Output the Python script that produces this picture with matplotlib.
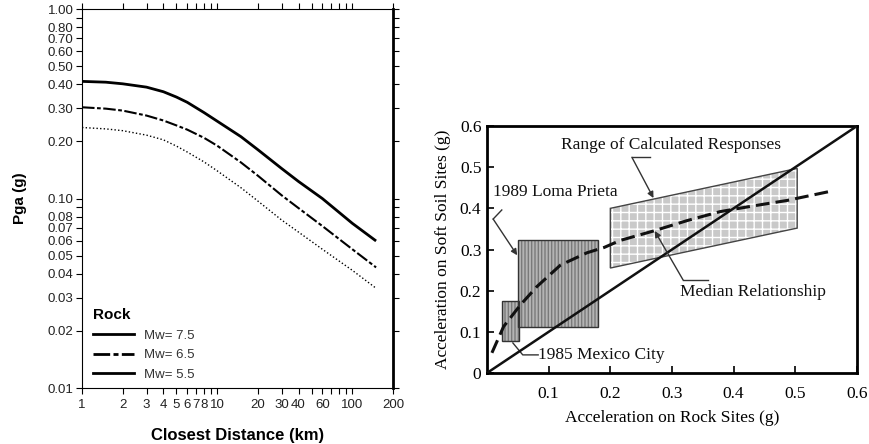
import matplotlib
matplotlib.use("Agg")
import matplotlib.pyplot as plt
from matplotlib.lines import Line2D
from matplotlib.patches import Polygon, Rectangle
from matplotlib.ticker import FixedLocator, FixedFormatter, NullFormatter

# ---- left panel: attenuation curves (rock) ----
dist = [1, 1.5, 2, 3, 4, 5, 6, 8, 10, 15, 20, 30, 40, 60, 100, 150]
pga_75 = [0.415, 0.411, 0.403, 0.387, 0.366, 0.343, 0.322, 0.284, 0.256, 0.212,
          0.181, 0.144, 0.123, 0.100, 0.074, 0.0597]
pga_65 = [0.303, 0.298, 0.291, 0.274, 0.258, 0.243, 0.231, 0.209, 0.190, 0.155,
          0.132, 0.104, 0.089, 0.0716, 0.054, 0.0433]
pga_55 = [0.237, 0.233, 0.228, 0.216, 0.204, 0.189, 0.176, 0.156, 0.140, 0.114,
          0.097, 0.077, 0.0665, 0.054, 0.0418, 0.0336]
legend_labels = ["Mw= 7.5", "Mw= 6.5", "Mw= 5.5"]

x_major = [1, 2, 3, 4, 5, 6, 7, 8, 10, 20, 30, 40, 60, 100, 200]
x_minor = [9, 50, 70, 80, 90]
y_major = [0.01, 0.02, 0.03, 0.04, 0.05, 0.06, 0.07, 0.08, 0.10,
           0.20, 0.30, 0.40, 0.50, 0.60, 0.70, 0.80, 1.00]
y_minor = [0.09, 0.9]

# ---- right panel: soft soil vs rock ----
median_x = [0.008, 0.027, 0.054, 0.081, 0.119, 0.162, 0.19, 0.216, 0.27, 0.324,
            0.378, 0.432, 0.486, 0.562]
median_y = [0.049, 0.113, 0.165, 0.21, 0.262, 0.292, 0.305, 0.322, 0.345, 0.37,
            0.392, 0.406, 0.419, 0.443]
mexico_box = (0.025, 0.077, 0.052, 0.175)      # x0, y0, x1, y1
loma_box = (0.050, 0.112, 0.180, 0.322)
range_poly = [(0.2, 0.40), (0.503, 0.497), (0.503, 0.352), (0.2, 0.255)]
right_ticks = [0.1, 0.2, 0.3, 0.4, 0.5, 0.6]
right_yticks = [0, 0.1, 0.2, 0.3, 0.4, 0.5, 0.6]

plt.rcParams["hatch.linewidth"] = 1.0
fig = plt.figure(figsize=(8.69, 4.44), dpi=100)

# ================= left =================
ax = fig.add_axes([0.0944, 0.1261, 0.3578, 0.8536])
sans = ["Liberation Sans", "DejaVu Sans"]
ax.plot(dist, pga_75, color="black", lw=2.0, solid_capstyle="butt")
ax.plot(dist, pga_65, color="black", lw=1.5, dashes=(6, 1.2, 1.8, 1.2))
ax.plot(dist, pga_55, color="black", lw=1.0, dashes=(1, 1.6))
ax.set_xscale("log")
ax.set_yscale("log")
ax.set_xlim(1, 200)
ax.set_ylim(0.01, 1.0)

ax.xaxis.set_major_locator(FixedLocator(x_major))
ax.xaxis.set_major_formatter(FixedFormatter([str(v) for v in x_major]))
ax.xaxis.set_minor_locator(FixedLocator(x_minor))
ax.xaxis.set_minor_formatter(NullFormatter())
ax.yaxis.set_major_locator(FixedLocator(y_major))
ax.yaxis.set_major_formatter(FixedFormatter(["%.2f" % v for v in y_major]))
ax.yaxis.set_minor_locator(FixedLocator(y_minor))
ax.yaxis.set_minor_formatter(NullFormatter())
ax.tick_params(which="both", direction="out", top=True, right=True,
               length=4, width=0.8, labelsize=9.5, pad=2)
ax.tick_params(axis="x", pad=4)
for lab in ax.get_xticklabels() + ax.get_yticklabels():
    lab.set_family(sans)
    lab.set_color("#222222")
for s in ["left", "top", "bottom"]:
    ax.spines[s].set_linewidth(0.8)
ax.spines["right"].set_linewidth(2.0)

ax.set_ylabel("Pga (g)", family=sans, fontweight="bold", fontsize=11, labelpad=15)
ax.set_xlabel("Closest Distance (km)", family=sans, fontweight="bold",
              fontsize=12, labelpad=12)

handles = [Line2D([], [], color="black", lw=2.0),
           Line2D([], [], color="black", lw=2.0, dashes=(6, 1.2, 1.8, 1.2)),
           Line2D([], [], color="black", lw=2.0)]
leg = ax.legend(handles, legend_labels, title="Rock", loc="lower left",
                bbox_to_anchor=(-0.004, -0.012), frameon=False, handlelength=3.1,
                handletextpad=0.8, labelspacing=0.55, alignment="left",
                prop={"family": sans, "size": 9.5},
                title_fontproperties={"family": sans, "weight": "bold", "size": 11})
for t in leg.get_texts():
    t.set_color("#333333")

# ================= right =================
serif = ["Liberation Serif", "DejaVu Serif"]
bx = fig.add_axes([0.5604, 0.1599, 0.4258, 0.5563])
bx.set_xlim(0, 0.6)
bx.set_ylim(0, 0.6)

poly = Polygon(range_poly, closed=True, facecolor="#c9c9c9", edgecolor="white",
               lw=0, hatch="++", zorder=1)
bx.add_patch(poly)
bx.add_patch(Polygon(range_poly, closed=True, fill=False, edgecolor="#444444",
                     lw=1.0, zorder=2))
for b in [loma_box, mexico_box]:
    r = Rectangle((b[0], b[1]), b[2] - b[0], b[3] - b[1], facecolor="#b4b4b4",
                  edgecolor="#7a7a7a", lw=0, hatch="|||||", zorder=1)
    bx.add_patch(r)
    bx.add_patch(Rectangle((b[0], b[1]), b[2] - b[0], b[3] - b[1], fill=False,
                           edgecolor="#333333", lw=1.0, zorder=2))

bx.plot([0, 0.6], [0, 0.6], color="#111111", lw=1.8, zorder=3)
bx.plot(median_x, median_y, color="#111111", lw=2.2, dashes=(4.5, 2.0), zorder=3)

bx.set_xticks(right_ticks)
bx.set_xticklabels([str(v) for v in right_ticks])
bx.set_yticks(right_yticks)
bx.set_yticklabels(["0"] + [str(v) for v in right_yticks[1:]])
bx.tick_params(direction="in", length=5, width=1.2, labelsize=12.5)
bx.tick_params(axis="x", pad=9)
bx.tick_params(axis="y", pad=4)
for lab in bx.get_xticklabels() + bx.get_yticklabels():
    lab.set_family(serif)
for s in bx.spines.values():
    s.set_linewidth(2.0)
bx.set_xlabel("Acceleration on Rock Sites (g)", family=serif, fontsize=12.5, labelpad=6)
bx.set_ylabel("Acceleration on Soft Soil Sites (g)", family=serif, fontsize=12.5,
              labelpad=6)

tk = dict(family=serif, fontsize=12.5, color="#111111")
lk = dict(color="#333333", lw=1.0)
bx.text(0.12, 0.553, "Range of Calculated Responses", va="center", ha="left", **tk)
bx.plot([0.235, 0.264], [0.524, 0.524], clip_on=False, **lk)
bx.annotate("", xy=(0.270, 0.425), xytext=(0.235, 0.524),
            arrowprops=dict(arrowstyle="-|>", color="#333333", lw=1.0,
                            mutation_scale=9, shrinkA=0, shrinkB=0))

bx.text(0.010, 0.440, "1989 Loma Prieta", va="center", ha="left", **tk)
bx.plot([0.010, 0.024], [0.374, 0.396], clip_on=False, **lk)
bx.annotate("", xy=(0.049, 0.286), xytext=(0.010, 0.374),
            arrowprops=dict(arrowstyle="-|>", color="#333333", lw=1.0,
                            mutation_scale=9, shrinkA=0, shrinkB=0))

bx.text(0.313, 0.196, "Median Relationship", va="center", ha="left", **tk)
bx.plot([0.318, 0.358], [0.226, 0.226], **lk)
bx.annotate("", xy=(0.272, 0.345), xytext=(0.318, 0.226),
            arrowprops=dict(arrowstyle="-|>", color="#333333", lw=1.0,
                            mutation_scale=9, shrinkA=0, shrinkB=0))

bx.text(0.083, 0.044, "1985 Mexico City", va="center", ha="left", **tk)
bx.plot([0.083, 0.058, 0.042], [0.044, 0.044, 0.073], **lk)

fig.savefig("out.png", dpi=100)
